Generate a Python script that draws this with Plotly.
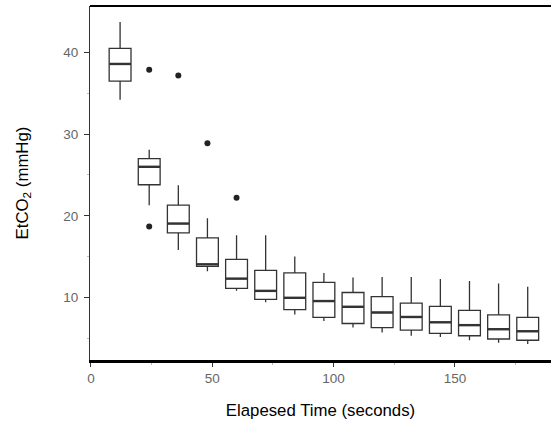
import plotly.graph_objects as go

times = [12, 24, 36, 48, 60, 72, 84, 96, 108, 120, 132, 144, 156, 168, 180]
upper = [43.75, 28.1, 23.75, 19.7, 17.6, 17.6, 15.0, 13.0, 12.45, 12.5, 12.5, 12.25, 12.0, 11.7, 11.3]
q3 = [40.5, 27.0, 21.3, 17.3, 14.65, 13.3, 13.0, 11.85, 10.6, 10.1, 9.3, 8.9, 8.4, 7.85, 7.55]
median = [38.6, 26.0, 19.05, 14.05, 12.3, 10.8, 9.95, 9.55, 8.85, 8.15, 7.6, 6.95, 6.6, 6.1, 5.85]
q1 = [36.5, 23.8, 17.9, 13.8, 11.1, 9.75, 8.5, 7.55, 6.8, 6.3, 6.0, 5.6, 5.3, 4.9, 4.75]
lower = [34.2, 21.3, 15.8, 13.2, 10.8, 9.4, 7.9, 7.1, 6.3, 5.7, 5.3, 5.15, 4.75, 4.45, 4.3]

outlier_x = [24, 36, 48, 60, 24]
outlier_y = [37.9, 37.2, 28.9, 22.2, 18.7]

x_ticks = [0, 50, 100, 150]
y_ticks = [10, 20, 30, 40]

box_w = 9.0

fig = go.Figure()
fig.add_trace(go.Box(
    x=times, q1=q1, median=median, q3=q3,
    lowerfence=lower, upperfence=upper,
    width=box_w, fillcolor="white",
    line=dict(color="#333333", width=1.3),
    whiskerwidth=0, boxpoints=False, showlegend=False,
    hoverinfo="skip",
))

# thicker median segments
mx, my = [], []
for t, m in zip(times, median):
    mx += [t - box_w / 2, t + box_w / 2, None]
    my += [m, m, None]
fig.add_trace(go.Scatter(x=mx, y=my, mode="lines",
                         line=dict(color="#333333", width=2.4),
                         showlegend=False, hoverinfo="skip"))

fig.add_trace(go.Scatter(x=outlier_x, y=outlier_y, mode="markers",
                         marker=dict(color="#222222", size=6),
                         showlegend=False, hoverinfo="skip"))

font = "Liberation Sans, Arial, sans-serif"
fig.update_layout(
    width=552, height=425,
    margin=dict(l=90, r=1, t=6, b=65),
    paper_bgcolor="white", plot_bgcolor="white",
    font=dict(family=font, size=13, color="#666666"),
    xaxis=dict(
        range=[-0.4, 189.6], tickvals=x_ticks,
        showgrid=False, zeroline=False, automargin=False,
        showline=True, linecolor="black", linewidth=3,
        ticks="outside", ticklen=4, tickcolor="#333333",
        tickfont=dict(size=13.5, color="#666666"),
        title=dict(text="Elapesed Time (seconds)", font=dict(size=16.8, color="black"), standoff=20),
        minor=dict(tickvals=[25, 75, 125, 175], ticks="outside", ticklen=2, tickcolor="#bbbbbb"),
    ),
    yaxis=dict(
        range=[2.33, 45.7], tickvals=y_ticks,
        showgrid=False, zeroline=False, automargin=False,
        showline=True, linecolor="#333333", linewidth=1.2,
        ticks="outside", ticklen=5, tickcolor="#333333",
        tickfont=dict(size=13.5, color="#666666"),
        ticklabelstandoff=3,
        title=dict(text="EtCO<sub>2</sub> (mmHg)", font=dict(size=16.8, color="black"), standoff=30),
        minor=dict(tickvals=[5, 15, 25, 35], ticks="outside", ticklen=2, tickcolor="#bbbbbb"),
    ),
    shapes=[dict(type="line", xref="paper", yref="paper", x0=0, x1=1, y0=1, y1=1,
                 line=dict(color="black", width=2))],
)

fig.write_html("out.html", config={"displayModeBar": False},
               post_script="document.body.style.margin='0px';")
